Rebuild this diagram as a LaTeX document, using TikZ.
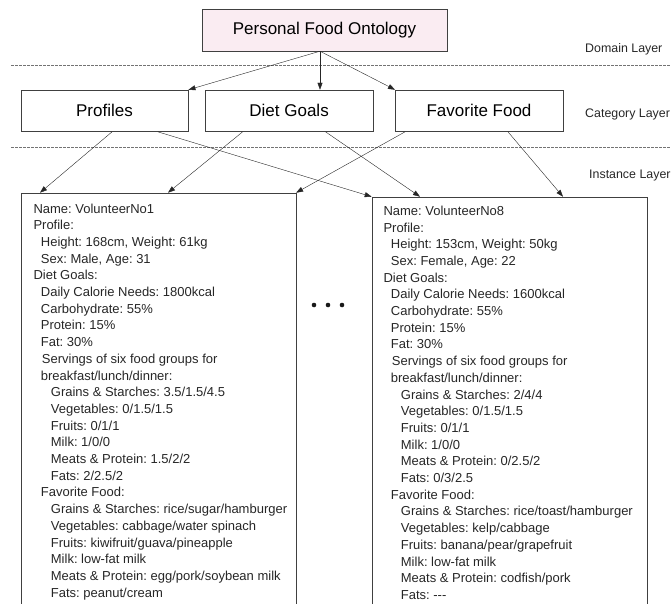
\documentclass[tikz,border=0pt]{standalone}
\usepackage{fontspec}
\setmainfont{Liberation Sans}
\usetikzlibrary{arrows.meta,positioning}
\definecolor{ontopink}{RGB}{250,236,242}
\frenchspacing

\begin{document}
\begin{tikzpicture}[
  x=1pt,y=-1pt,
  font=\fontsize{13pt}{16.7pt}\selectfont,
  ontobox/.style={draw=black!75,fill=ontopink,minimum width=245pt,minimum height=42pt,font=\fontsize{17pt}{20pt}\selectfont},
  catbox/.style={draw=black!75,minimum width=167.5pt,minimum height=41.7pt,font=\fontsize{17pt}{20pt}\selectfont},
  instbox/.style={draw=black!75,minimum width=275pt,minimum height=430pt,anchor=north west},
  listing/.style={inner sep=0pt,align=left,text=black!85},
  layer/.style={anchor=base west,inner sep=0pt,font=\fontsize{12.4pt}{15pt}\selectfont,text=black!85},
  sep/.style={black!55,dash pattern=on 2.5pt off 1.5pt},
  link/.style={-{Triangle[length=7pt,width=5pt]},black!85},
]
  \useasboundingbox (0,0) rectangle (671,603);

  % layers
  \draw[sep] (11,65) -- (671,65);
  \draw[sep] (11,146.7) -- (671,146.7);
  \node[layer] (dom) at (585,52.3) {Domain Layer};
  \node[layer] (cat) at (585,117) {Category Layer};
  \node[layer] (ins) at (589,178) {Instance Layer};

  \node[ontobox] (pfo) at (324.5,30) {Personal Food Ontology};
  \node[catbox] (prof) at (104.5,110.8) {Profiles};
  \node[catbox,right=16.7pt of prof] (goals) {Diet Goals};
  \node[catbox,right=22pt of goals] (fav) {Favorite Food};

  \node[instbox] (vol1) at (20.7,192.7) {};
  \node[instbox] (vol8) at (371.7,196.7) {};

  \coordinate (hub) at ([xshift=-4.5pt]pfo.south);
  \draw[link] (hub) -- (prof.north east);
  \draw[link] (hub) -- (hub |- goals.north);
  \draw[link] (hub) -- (fav.north west);

  \draw[link] ([xshift=7.5pt]prof.south) -- ([xshift=19.3pt]vol1.north west);
  \draw[link] ([xshift=53.5pt]prof.south) -- (vol8.north west);
  \draw[link] ([xshift=-46.5pt]goals.south) -- ([xshift=147.3pt]vol1.north west);
  \draw[link] ([xshift=36.5pt]goals.south) -- ([xshift=48.3pt]vol8.north west);
  \draw[link] ([xshift=-74pt]fav.south) -- (vol1.north east);
  \draw[link] ([xshift=29pt]fav.south) -- ([xshift=191.3pt]vol8.north west);

  \node[listing,below right=10.7pt and 12.6pt of vol1.north west] (vol1list) {
    Name: VolunteerNo1\\
    Profile:\\
    \hspace*{7.4pt}Height: 168cm, Weight: 61kg\\
    \hspace*{7.4pt}Sex: Male, Age: 31\\
    Diet Goals:\\
    \hspace*{7.4pt}Daily Calorie Needs: 1800kcal\\
    \hspace*{7.4pt}Carbohydrate: 55\%\\
    \hspace*{7.4pt}Protein: 15\%\\
    \hspace*{7.4pt}Fat: 30\%\\
    \hspace*{8.4pt}Servings of six food groups for\\
    \hspace*{7.4pt}breakfast/lunch/dinner:\\
    \hspace*{17.4pt}Grains \& Starches: 3.5/1.5/4.5\\
    \hspace*{17.4pt}Vegetables: 0/1.5/1.5\\
    \hspace*{17.4pt}Fruits: 0/1/1\\
    \hspace*{17.4pt}Milk: 1/0/0\\
    \hspace*{17.4pt}Meats \& Protein: 1.5/2/2\\
    \hspace*{17.4pt}Fats: 2/2.5/2\\
    \hspace*{7.4pt}Favorite Food:\\
    \hspace*{17.4pt}Grains \& Starches: rice/sugar/hamburger\\
    \hspace*{17.4pt}Vegetables: cabbage/water spinach\\
    \hspace*{17.4pt}Fruits: kiwifruit/guava/pineapple\\
    \hspace*{17.4pt}Milk: low-fat milk\\
    \hspace*{17.4pt}Meats \& Protein: egg/pork/soybean milk\\
    \hspace*{17.4pt}Fats: peanut/cream
  };

  \node[listing,below right=9pt and 11.6pt of vol8.north west] (vol8list) {
    Name: VolunteerNo8\\
    Profile:\\
    \hspace*{7.4pt}Height: 153cm, Weight: 50kg\\
    \hspace*{7.4pt}Sex: Female, Age: 22\\
    Diet Goals:\\
    \hspace*{7.4pt}Daily Calorie Needs: 1600kcal\\
    \hspace*{7.4pt}Carbohydrate: 55\%\\
    \hspace*{7.4pt}Protein: 15\%\\
    \hspace*{7.4pt}Fat: 30\%\\
    \hspace*{8.4pt}Servings of six food groups for\\
    \hspace*{7.4pt}breakfast/lunch/dinner:\\
    \hspace*{17.4pt}Grains \& Starches: 2/4/4\\
    \hspace*{17.4pt}Vegetables: 0/1.5/1.5\\
    \hspace*{17.4pt}Fruits: 0/1/1\\
    \hspace*{17.4pt}Milk: 1/0/0\\
    \hspace*{17.4pt}Meats \& Protein: 0/2.5/2\\
    \hspace*{17.4pt}Fats: 0/3/2.5\\
    \hspace*{7.4pt}Favorite Food:\\
    \hspace*{17.4pt}Grains \& Starches: rice/toast/hamburger\\
    \hspace*{17.4pt}Vegetables: kelp/cabbage\\
    \hspace*{17.4pt}Fruits: banana/pear/grapefruit\\
    \hspace*{17.4pt}Milk: low-fat milk\\
    \hspace*{17.4pt}Meats \& Protein: codfish/pork\\
    \hspace*{17.4pt}Fats: -{}-{}-
  };

  \foreach \x in {314,328,342}
    \fill[black!90] (\x,305) circle (2.3pt);
\end{tikzpicture}
\end{document}
